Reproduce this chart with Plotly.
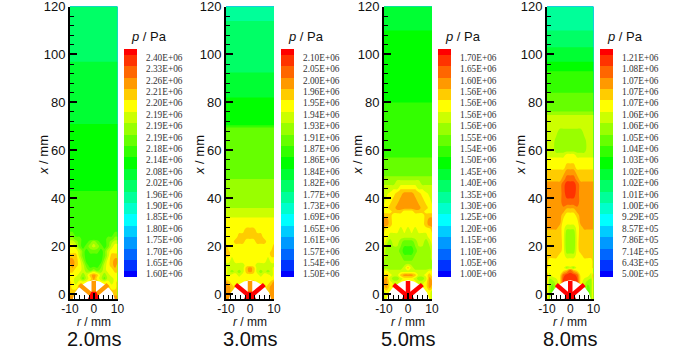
import numpy as np
import plotly.graph_objects as go

W, H = 700, 350

# Band colours, lowest pressure band first (21 Tecplot-style bands)
band_colors = ["#0000ff", "#0033ff", "#0066ff", "#0099ff", "#00ccff", "#00ffff", "#00ffcc",
               "#00ff99", "#00ff66", "#00ff33", "#00ff00", "#33ff00", "#66ff00", "#99ff00",
               "#ccff00", "#ffff00", "#ffcc00", "#ff9900", "#ff6600", "#ff3300", "#ff0000"]

# Half-width sample positions (mm); fields are symmetric about r = 0
r_half = [0, 1.5, 3, 4.5, 6, 7.5, 9, 10]

x_a = [120, 98, 96, 72, 70, 44, 42, 27, 25, 23, 22, 20, 18, 16, 14, 12, 10, 8, 6.5, 5, 3, 1, -2]
band_a = [
    [8]*8, [8]*8, [9]*8, [9]*8, [10]*8, [10]*8, [11]*8, [11]*8,
    [11, 11, 11, 11, 11, 11, 12, 12],
    [11, 11, 11, 11, 12, 12, 13, 13],
    [13, 12, 11, 11, 12, 13, 14, 14],
    [14, 13, 12, 11, 12, 14, 15, 15],
    [12, 12, 11, 12, 14, 15, 15, 15],
    [11, 11, 11, 12, 14, 16, 16, 16],
    [11, 11, 11, 13, 15, 16, 17, 17],
    [11, 11, 12, 14, 15, 16, 17, 16],
    [13, 12, 13, 14, 15, 15, 16, 16],
    [17, 16, 14, 13, 14, 15, 15, 15],
    [17, 15, 14, 12, 14, 14, 15, 15],
    [16, 16, 15, 15, 15, 14, 15, 16],
    [18, 17, 16, 16, 16, 15, 15, 16],
    [20, 19, 17, 17, 17, 16, 16, 16],
    [20, 20, 17, 17, 17, 17, 17, 17],
]

x_b = [120, 115, 113, 93, 92, 82.5, 81.5, 71, 70, 69, 49, 47, 37, 35, 33, 31, 28.5, 27, 24, 22, 20, 17,
       14, 12, 11, 9.5, 8, 6.5, 5, 3, 1, -2]
band_b = [
    [7]*8, [7]*8, [8]*8, [8]*8, [9]*8, [9]*8, [10]*8, [10]*8, [11]*8, [12]*8, [12]*8, [13]*8,
    [13]*8, [14]*8, [14]*8, [15]*8, [15]*8,
    [16, 16, 15, 15, 15, 15, 15, 15],
    [16, 16, 16, 16, 15, 15, 15, 15],
    [15, 15, 16, 16, 16, 15, 15, 15],
    [15, 15, 15, 15, 15, 15, 15, 16],
    [15, 15, 15, 15, 15, 15, 16, 16],
    [15, 15, 15, 15, 15, 14, 15, 15],
    [15, 15, 14, 14, 14, 14, 14, 14],
    [17, 16, 14, 14, 14, 14, 14, 15],
    [17, 16, 14, 13, 14, 13, 14, 15],
    [15, 15, 15, 14, 15, 15, 14, 15],
    [15, 15, 15, 15, 15, 15, 15, 15],
    [16, 16, 15, 15, 15, 15, 16, 17],
    [17, 17, 16, 15, 15, 16, 17, 17],
    [19, 18, 17, 16, 16, 16, 17, 17],
    [19, 18, 17, 16, 16, 16, 17, 17],
]

x_c = [120, 111, 109, 81, 79, 58, 56, 50, 48.5, 46.5, 44.5, 43, 42, 39, 36, 34.5, 33, 31, 29, 27, 24, 22,
       18, 15, 13, 11, 9.5, 8, 6.5, 5, 3, 1, -2]
band_c = [
    [9]*8, [9]*8, [10]*8, [10]*8, [11]*8, [11]*8, [12]*8, [12]*8, [13]*8,
    [14, 14, 14, 14, 13, 13, 13, 13],
    [15, 15, 15, 14, 14, 14, 14, 14],
    [16, 16, 16, 15, 15, 14, 14, 14],
    [17, 17, 16, 16, 15, 15, 14, 14],
    [17, 17, 17, 16, 16, 15, 15, 14],
    [17, 17, 17, 17, 16, 16, 15, 15],
    [15, 15, 16, 16, 16, 15, 15, 15],
    [15, 15, 15, 15, 15, 16, 16, 16],
    [15, 15, 15, 15, 15, 16, 17, 17],
    [15, 15, 15, 15, 15, 16, 17, 17],
    [14, 15, 14, 15, 15, 15, 15, 16],
    [14, 14, 14, 14, 14, 14, 15, 15],
    [12, 12, 13, 14, 14, 13, 14, 15],
    [11, 11, 12, 13, 13, 13, 13, 14],
    [12, 12, 13, 13, 13, 13, 13, 14],
    [13, 13, 13, 13, 13, 13, 13, 13],
    [16, 14, 13, 13, 13, 13, 13, 13],
    [14, 14, 14, 14, 14, 14, 15, 15],
    [17, 17, 16, 14, 14, 15, 16, 15],
    [15, 15, 14, 13, 13, 14, 17, 16],
    [15, 15, 15, 14, 14, 15, 17, 17],
    [15, 15, 15, 15, 15, 15, 17, 16],
    [15, 15, 15, 15, 15, 15, 15, 14],
    [15, 15, 15, 15, 15, 15, 15, 14],
]

x_d = [120, 111, 109, 104, 102, 98, 96, 94, 92, 85, 83, 77, 75.5, 74, 70, 68, 64, 60, 58, 56, 53, 51, 48,
       46, 42, 38, 35, 33, 30, 28, 26, 18, 16, 14, 12, 11, 10, 8, 5, 3, -2]
band_d = [
    [7]*8, [7]*8, [8]*8, [8]*8, [9]*8, [9]*8, [10]*8, [10]*8, [11]*8, [11]*8, [12]*8, [12]*8,
    [13]*8, [14]*8, [14]*8,
    [13, 13, 13, 13, 14, 14, 14, 14],
    [13, 13, 13, 13, 13, 14, 14, 14],
    [13, 13, 13, 13, 13, 14, 14, 14],
    [15, 15, 14, 14, 14, 14, 14, 14],
    [15, 15, 15, 15, 15, 15, 15, 15],
    [16, 16, 15, 15, 15, 15, 15, 15],
    [17, 17, 16, 16, 16, 16, 16, 16],
    [18, 18, 17, 16, 16, 16, 16, 16],
    [19, 19, 18, 17, 17, 17, 17, 17],
    [19, 19, 18, 17, 17, 17, 17, 17],
    [18, 18, 18, 17, 17, 17, 17, 17],
    [16, 16, 17, 17, 17, 17, 17, 17],
    [15, 15, 16, 17, 17, 17, 17, 17],
    [15, 15, 15, 17, 17, 17, 17, 17],
    [14, 14, 15, 16, 17, 17, 17, 17],
    [13, 13, 15, 16, 16, 16, 16, 16],
    [13, 13, 15, 16, 16, 16, 16, 16],
    [14, 14, 15, 15, 16, 16, 16, 16],
    [15, 15, 15, 15, 15, 15, 15, 16],
    [15, 15, 15, 15, 15, 15, 15, 16],
    [14, 13, 15, 15, 15, 15, 15, 16],
    [18, 16, 15, 15, 15, 15, 15, 15],
    [19, 19, 18, 15, 15, 15, 14, 17],
    [19, 19, 19, 15, 14, 13, 13, 16],
    [19, 19, 19, 15, 14, 12, 13, 16],
    [19, 19, 19, 15, 14, 12, 13, 16],
]

labels_a = ["2.40E+06", "2.33E+06", "2.26E+06", "2.21E+06", "2.20E+06", "2.19E+06", "2.19E+06",
            "2.19E+06", "2.18E+06", "2.14E+06", "2.08E+06", "2.02E+06", "1.96E+06", "1.90E+06",
            "1.85E+06", "1.80E+06", "1.75E+06", "1.70E+06", "1.65E+06", "1.60E+06"]
labels_b = ["2.10E+06", "2.05E+06", "2.00E+06", "1.96E+06", "1.95E+06", "1.94E+06", "1.93E+06",
            "1.91E+06", "1.87E+06", "1.86E+06", "1.84E+06", "1.82E+06", "1.77E+06", "1.73E+06",
            "1.69E+06", "1.65E+06", "1.61E+06", "1.57E+06", "1.54E+06", "1.50E+06"]
labels_c = ["1.70E+06", "1.65E+06", "1.60E+06", "1.56E+06", "1.56E+06", "1.56E+06", "1.56E+06",
            "1.55E+06", "1.54E+06", "1.50E+06", "1.45E+06", "1.40E+06", "1.35E+06", "1.30E+06",
            "1.25E+06", "1.20E+06", "1.15E+06", "1.10E+06", "1.05E+06", "1.00E+06"]
labels_d = ["1.21E+06", "1.08E+06", "1.07E+06", "1.07E+06", "1.07E+06", "1.06E+06", "1.06E+06",
            "1.05E+06", "1.04E+06", "1.03E+06", "1.02E+06", "1.02E+06", "1.01E+06", "1.00E+06",
            "9.29E+05", "8.57E+05", "7.86E+05", "7.14E+05", "6.43E+05", "5.00E+05"]

times = ["2.0ms", "3.0ms", "5.0ms", "8.0ms"]

# Injector geometry (mm): white dome and the three spokes
dome_r = [-8.8, -8, -6.5, -4.5, -2.5, 0, 2.5, 4.5, 6.5, 8, 8.8]
dome_x = [-2, 0.6, 2.5, 4.2, 5.3, 5.8, 5.3, 4.2, 2.5, 0.6, -2]
stem_r = [0, 0]
stem_x = [-1, 5.5]
left_spoke_r = [0, -6]
right_spoke_r = [0, 6]
spoke_x = [-1, 4]
hub_r = [-2.5, 2.5, 1, -1]
hub_x = [-2, -2, 1, 1]

stem_colors = ["#ff9900", "#ff9900", "#ff0000", "#ff0000"]
spoke_colors = ["#ff9900", "#ff0000", "#ff0000", "#ff0000"]

# Pixel layout per panel
plot_left = [70, 226, 384, 547]
plot_right = [117.5, 274, 432, 593.5]
bar_left = [124, 281, 438, 600]
bar_right = [137, 294, 451, 613]
plot_top, plot_bottom = 6.5, 299
bar_top, bar_bottom = 49, 277

scale = []
n = len(band_colors)
for i, c in enumerate(band_colors):
    scale += [[i / n, c], [(i + 1) / n, c]]

fields = [(x_a, band_a), (x_b, band_b), (x_c, band_c), (x_d, band_d)]
all_labels = [labels_a, labels_b, labels_c, labels_d]
r_full = [-v for v in r_half[:0:-1]] + r_half

fig = go.Figure()
layout = {}
annos = []
sans = "Liberation Sans, Arial, sans-serif"
tick_font = dict(family=sans, size=13, color="#111111")


def note(px, py, text, size, angle=0):
    return dict(xref="paper", yref="paper", x=px / W, y=1 - py / H, xanchor="center", yanchor="middle",
                showarrow=False, text=text, textangle=angle, font=dict(family=sans, size=size, color="#111"))


for k in range(4):
    xs, band = fields[k]
    half = np.array(band, dtype=float)
    z = np.hstack([half[:, :0:-1], half])
    ax = "" if k == 0 else str(2 * k + 1)
    bx = str(2 * k + 2)
    fig.add_trace(go.Contour(
        x=r_full, y=xs, z=z.tolist(), xaxis="x" + ax, yaxis="y" + ax,
        colorscale=scale, zmin=-0.5, zmax=20.5, autocontour=False,
        contours=dict(start=-0.5, end=20.5, size=1, coloring="fill", showlines=False),
        line=dict(width=0), showscale=False, hoverinfo="skip"))
    fig.add_trace(go.Scatter(x=dome_r, y=dome_x, mode="lines", fill="toself", fillcolor="white",
                             line=dict(width=0, color="white"), xaxis="x" + ax, yaxis="y" + ax,
                             showlegend=False, hoverinfo="skip"))
    for rr, xx, col, w in [(left_spoke_r, spoke_x, spoke_colors[k], 4.5),
                           (right_spoke_r, spoke_x, spoke_colors[k], 4.5),
                           (stem_r, stem_x, stem_colors[k], 4.5)]:
        fig.add_trace(go.Scatter(x=rr, y=xx, mode="lines", line=dict(color=col, width=w),
                                 xaxis="x" + ax, yaxis="y" + ax, showlegend=False, hoverinfo="skip"))
    fig.add_trace(go.Scatter(x=hub_r, y=hub_x, mode="lines", fill="toself", fillcolor="#ff0000",
                             line=dict(width=0, color="#ff0000"), xaxis="x" + ax, yaxis="y" + ax,
                             showlegend=False, hoverinfo="skip"))

    layout["xaxis" + ax] = dict(
        domain=[plot_left[k] / W, plot_right[k] / W], anchor="y" + ax, range=[-10, 10], automargin=False,
        tickmode="array", tickvals=[-10, 0, 10], ticktext=["-10", "0", "10"], ticks="inside", ticklen=6,
        tickwidth=1.5, tickcolor="#000", showgrid=False, zeroline=False, showline=True, linecolor="#000",
        linewidth=2, tickfont=dict(family=sans, size=12, color="#111111"), ticklabeloverflow="allow",
        ticklabelstandoff=-2,
        minor=dict(dtick=2, ticks="inside", ticklen=4, tickwidth=1, tickcolor="#000"))
    layout["yaxis" + ax] = dict(
        domain=[1 - plot_bottom / H, 1 - plot_top / H], anchor="x" + ax, range=[-2, 120], automargin=False,
        tickmode="array", tickvals=[0, 20, 40, 60, 80, 100, 120], ticks="inside", ticklen=7, tickwidth=1.5,
        tickcolor="#000", showgrid=False, zeroline=False, showline=True, linecolor="#000", linewidth=2,
        tickfont=tick_font, ticklabeloverflow="allow",
        minor=dict(dtick=4, ticks="inside", ticklen=4, tickwidth=1, tickcolor="#000"))

    # Colour key: half bands at both ends
    edges = [0] + [i + 0.5 for i in range(20)] + [20]
    fig.add_trace(go.Heatmap(z=[[i] for i in range(21)], x=[0, 1], y=edges,
                             xaxis="x" + bx, yaxis="y" + bx, colorscale=scale, zmin=-0.5, zmax=20.5,
                             showscale=False, hoverinfo="skip"))
    layout["xaxis" + bx] = dict(domain=[bar_left[k] / W, bar_right[k] / W], anchor="y" + bx, range=[0, 1],
                                visible=False)
    layout["yaxis" + bx] = dict(
        domain=[1 - bar_bottom / H, 1 - bar_top / H], anchor="x" + bx, range=[0, 20], side="right",
        automargin=False, tickmode="array", tickvals=[0.26 + i for i in range(20)],
        ticktext=all_labels[k][::-1], ticks="", ticklabelstandoff=8, showgrid=False, zeroline=False,
        showline=False, tickfont=dict(family="Liberation Serif, Times New Roman, serif", size=9.3, color="#333"))

    mid = (plot_left[k] + plot_right[k]) / 2
    annos.append(note(bar_left[k] + 25, 36, "<i>p</i> / Pa", 13))
    annos.append(note(mid, 322, "<i>r</i> / mm", 12))
    annos.append(note(plot_left[k] - 27, 155, "<i>x</i> / mm", 13, -90))
    annos.append(note(mid, 339, times[k], 20))

fig.update_layout(width=W, height=H, margin=dict(l=0, r=0, t=0, b=0), paper_bgcolor="white",
                  plot_bgcolor="white", showlegend=False, annotations=annos, **layout)
fig.write_html("out.html", post_script="document.body.style.margin='0';",
               config={"displayModeBar": False})
